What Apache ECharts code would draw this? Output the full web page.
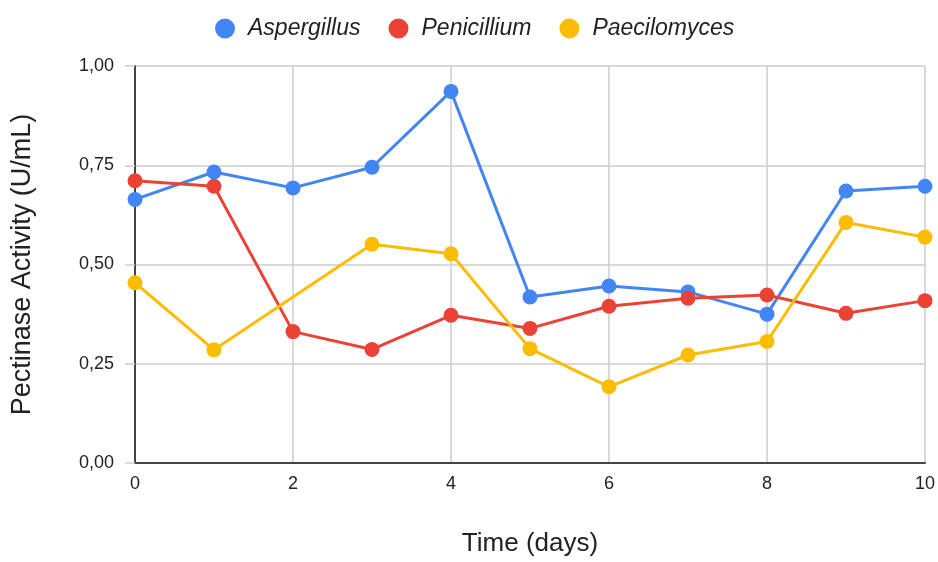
<!DOCTYPE html>
<html>
<head>
<meta charset="utf-8">
<script src="https://cdn.jsdelivr.net/npm/echarts@6/dist/echarts.min.js"></script>
<style>
  html, body { margin: 0; padding: 0; background: #fff; }
  #chart { width: 938px; height: 562px; }
</style>
</head>
<body>
<div id="chart"></div>
<script>
var days = [0, 1, 2, 3, 4, 5, 6, 7, 8, 9, 10];
var aspergillus = [0.664, 0.733, 0.693, 0.745, 0.936, 0.418, 0.446, 0.431, 0.375, 0.685, 0.697];
var penicillium = [0.711, 0.697, 0.331, 0.286, 0.372, 0.339, 0.395, 0.415, 0.423, 0.377, 0.409];
var paecilomyces = [0.454, 0.285, null, 0.551, 0.527, 0.288, 0.192, 0.272, 0.306, 0.606, 0.569];

var font = 'Arial, "Liberation Sans", sans-serif';

function pairs(vals) {
    var out = [];
    for (var i = 0; i < days.length; i++) {
        out.push([days[i], vals[i]]);
    }
    return out;
}

function line(name, color, vals) {
    return {
        name: name,
        type: 'line',
        data: pairs(vals),
        connectNulls: true,
        symbol: 'circle',
        symbolSize: 15,
        lineStyle: { width: 3, color: color },
        itemStyle: { color: color },
        emphasis: { disabled: true }
    };
}

var myChart = echarts.init(document.getElementById('chart'));
var option = {
    animation: false,
    color: ['#4285F4', '#EA4335', '#FBBC04'],
    legend: {
        top: 12,
        left: 210,
        itemGap: 28,
        icon: 'circle',
        itemWidth: 20,
        itemHeight: 20,
        textStyle: { fontFamily: font, fontSize: 23, fontStyle: 'italic', color: '#222', padding: [0, 0, 0, 8] },
        data: ['Aspergillus', 'Penicillium', 'Paecilomyces']
    },
    grid: { left: 135, right: 12, top: 66, bottom: 95 },
    xAxis: {
        type: 'value',
        min: 0,
        max: 10,
        interval: 2,
        name: 'Time (days)',
        nameLocation: 'middle',
        nameGap: 68,
        nameTextStyle: { fontFamily: font, fontSize: 26, color: '#222' },
        axisLine: { show: true, lineStyle: { color: '#444', width: 2 } },
        axisTick: { show: false },
        axisLabel: { fontFamily: font, fontSize: 18, color: '#222', margin: 12 },
        splitLine: { show: true, lineStyle: { color: '#ccc', width: 1.5 } }
    },
    yAxis: {
        type: 'value',
        min: 0,
        max: 1,
        interval: 0.25,
        name: 'Pectinase Activity (U/mL)',
        nameLocation: 'middle',
        nameGap: 99,
        nameTextStyle: { fontFamily: font, fontSize: 27, color: '#222' },
        axisLine: { show: true, onZero: false, lineStyle: { color: '#444', width: 2 } },
        axisTick: { show: true, length: 10, inside: false, lineStyle: { color: '#ccc', width: 1.5 } },
        axisLabel: {
            fontFamily: font, fontSize: 18, color: '#222', margin: 21,
            formatter: function (v) { return v.toFixed(2).replace('.', ','); }
        },
        splitLine: { show: true, lineStyle: { color: '#ccc', width: 1.5 } }
    },
    series: [
        line('Aspergillus', '#4285F4', aspergillus),
        line('Penicillium', '#EA4335', penicillium),
        line('Paecilomyces', '#FBBC04', paecilomyces)
    ]
};
myChart.setOption(option);
</script>
</body>
</html>
